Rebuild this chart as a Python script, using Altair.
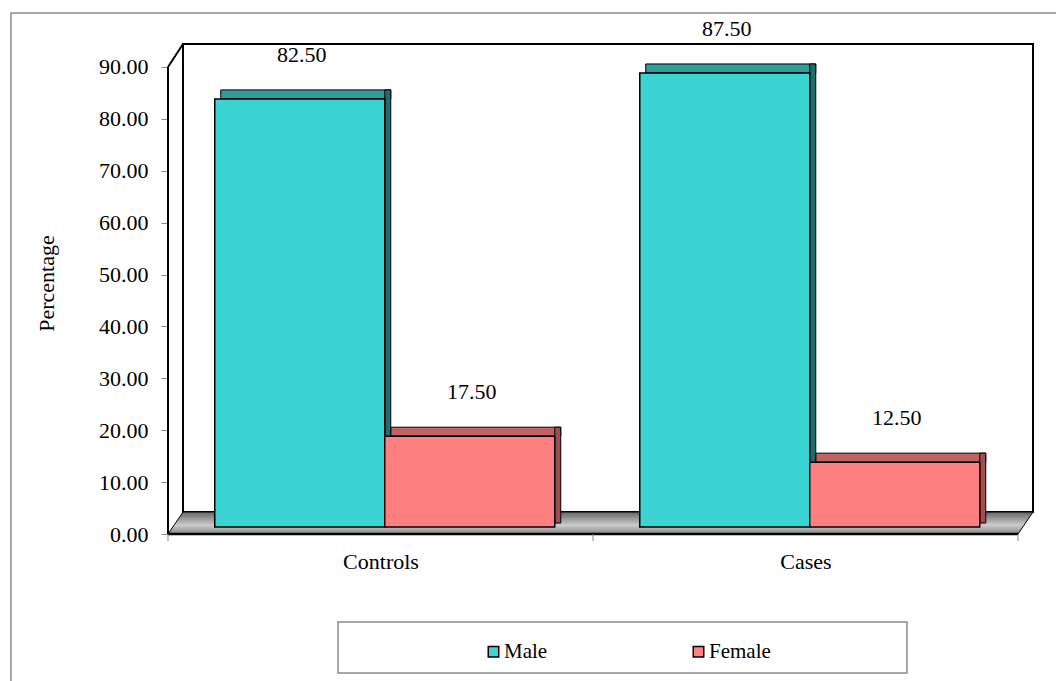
import json
import altair as alt
import pandas as pd

# ---------------- data ----------------
categories = ["Controls", "Cases"]
series = ["Male", "Female"]
male = [82.50, 87.50]
female = [17.50, 12.50]
y_ticks = [0, 10, 20, 30, 40, 50, 60, 70, 80, 90]

# ---------------- styles ----------------
FRONT = ["#3AD5D3", "#FF8080"]
TOP = ["#2E9D9B", "#C26262"]
SIDE = ["#1F6C6B", "#9E4F4F"]
FONT = "Liberation Serif"

W, H = 850, 490
YMAX = 94.43
BAR_W = 0.4
LEFT_GAP = 0.11
DX, DY = 6, 9      # bar depth in px
LIFT = 7           # bars sit on the middle of the floor
WX_PX, WY_PX = 15, 22  # wall depth in px

n = len(categories)
rows = []
for i, c in enumerate(categories):
    for j, (s, vals) in enumerate(zip(series, [male, female])):
        x0 = i + LEFT_GAP + j * BAR_W
        rows.append(dict(category=c, series=s, value=vals[i], x0=x0,
                         x1=x0 + BAR_W, xc=x0 + BAR_W / 2,
                         label=f"{vals[i]:.2f}"))
df = pd.DataFrame(rows)

wx = WX_PX / (W / n)
wy = WY_PX * YMAX / H
floor = pd.DataFrame({"x": [0, wx, n, n + wx],
                      "top": [0, wy, wy, wy],
                      "bot": [0, 0, 0, wy]})
one = pd.DataFrame({"a": [0]})
ticks_df = pd.DataFrame({"t": list(range(n + 1))})

xs = alt.Scale(domain=[0, n], nice=False, zero=False)
ys = alt.Scale(domain=[0, YMAX], nice=False, zero=True)

male_test = "datum.series === '%s'" % series[0]

outer = alt.Chart(one).mark_rect(fill=None, stroke="#8c8c8c", strokeWidth=1.5).encode(
    x=alt.value(11 - 168), x2=alt.value(1120), y=alt.value(13 - 44), y2=alt.value(720))

wall = alt.Chart(one).mark_rect(fill="white", stroke="black", strokeWidth=2).encode(
    x=alt.value(WX_PX), x2=alt.value(W + WX_PX), y=alt.value(0), y2=alt.value(H - WY_PX))

floor_area = alt.Chart(floor).mark_area(
    color=alt.Gradient(gradient="linear",
                       stops=[alt.GradientStop(color="#666666", offset=0),
                              alt.GradientStop(color="#cccccc", offset=0.6),
                              alt.GradientStop(color="#858585", offset=1)],
                       x1=0, x2=0, y1=0, y2=1),
    stroke="black", strokeWidth=1, interpolate="linear").encode(
    x=alt.X("x:Q", scale=xs), y=alt.Y("top:Q", scale=ys), y2="bot:Q")

front_edge = alt.Chart(one).mark_rule(color="black", strokeWidth=2.5).encode(
    x=alt.X(datum=0, scale=xs), x2=alt.X2(datum=n), y=alt.Y(datum=0, scale=ys))

axis_line = alt.Chart(one).mark_rule(color="black", strokeWidth=2).encode(
    x=alt.value(0), y=alt.Y(datum=0, scale=ys), y2=alt.Y2(datum=y_ticks[-1]))

diag = alt.Chart(one).mark_rule(color="black", strokeWidth=2).encode(
    x=alt.value(0), x2=alt.value(WX_PX), y=alt.Y(datum=y_ticks[-1], scale=ys), y2=alt.value(0))

xticks = alt.Chart(ticks_df).mark_rule(color="#888888", strokeWidth=1).encode(
    x=alt.X("t:Q", scale=xs), y=alt.value(H), y2=alt.value(H + 7))

top_face = alt.Chart(df).mark_rect(
    stroke="black", strokeWidth=1, xOffset=DX, x2Offset=DX,
    yOffset=-(LIFT + DY), y2Offset=-LIFT).encode(
    x=alt.X("x0:Q", scale=xs), x2="x1:Q",
    y=alt.Y("value:Q", scale=ys), y2="value:Q",
    fill=alt.condition(male_test, alt.value(TOP[0]), alt.value(TOP[1])))

side_face = alt.Chart(df).mark_rect(
    stroke="black", strokeWidth=1, xOffset=0, x2Offset=DX,
    yOffset=-(LIFT + DY), y2Offset=-(LIFT + DY // 2)).encode(
    x=alt.X("x1:Q", scale=xs), x2="x1:Q",
    y=alt.Y("value:Q", scale=ys), y2=alt.Y2(datum=0),
    fill=alt.condition(male_test, alt.value(SIDE[0]), alt.value(SIDE[1])))

label_expr = json.dumps(categories) + "[floor(datum.value)]"

front = alt.Chart(df).mark_bar(
    stroke="black", strokeWidth=1.5, yOffset=-LIFT, y2Offset=-LIFT).encode(
    x=alt.X("x0:Q", scale=xs,
            axis=alt.Axis(values=[i + 0.5 for i in range(n)], labelExpr=label_expr,
                          ticks=False, tickSize=0, domain=False, grid=False,
                          labelFont=FONT, labelFontSize=22, labelColor="black",
                          labelBaseline="middle", labelPadding=27, title=None)),
    x2="x1:Q",
    y=alt.Y("value:Q", scale=ys,
            axis=alt.Axis(values=y_ticks, format=".2f", domain=False, grid=False,
                          tickColor="#888888", tickSize=7, labelFont=FONT,
                          labelFontSize=22, labelColor="black", labelPadding=13,
                          title="Percentage", titleFont=FONT, titleFontSize=22,
                          titleFontWeight="normal", titleColor="black",
                          titleAngle=-90, titleX=-122, titleY=239,
                          titleAlign="center", titleBaseline="middle")),
    y2=alt.Y2(datum=0),
    color=alt.Color("series:N", scale=alt.Scale(domain=series, range=FRONT),
                    legend=alt.Legend(orient="none", legendX=315, legendY=597,
                                      direction="horizontal", title=None,
                                      symbolType="square", symbolSize=110,
                                      symbolStrokeColor="black", symbolStrokeWidth=1.5,
                                      symbolOpacity=1, labelFont=FONT, labelFontSize=21,
                                      labelColor="black", columnPadding=140,
                                      padding=0, labelOffset=0)))

labels = alt.Chart(df).mark_text(
    font=FONT, fontSize=22, color="black", dy=-51, dx=2, baseline="middle").encode(
    x=alt.X("xc:Q", scale=xs), y=alt.Y("value:Q", scale=ys), text="label:N")

legend_box = alt.Chart(one).mark_rect(fill=None, stroke="#8c8c8c", strokeWidth=1.5).encode(
    x=alt.value(338 - 168), x2=alt.value(907 - 168), y=alt.value(622 - 44), y2=alt.value(673 - 44))

chart = alt.layer(
    outer, wall, floor_area, front_edge, axis_line, diag, xticks,
    top_face, side_face, front, labels, legend_box
).properties(
    width=W, height=H, autosize="none",
    padding={"left": 168, "top": 44, "right": 38, "bottom": 147},
    background="white",
).configure_view(stroke=None).configure_legend(labelFont=FONT).configure_text(font=FONT)

chart.save("out.html", embed_options={"renderer": "svg", "actions": False})
